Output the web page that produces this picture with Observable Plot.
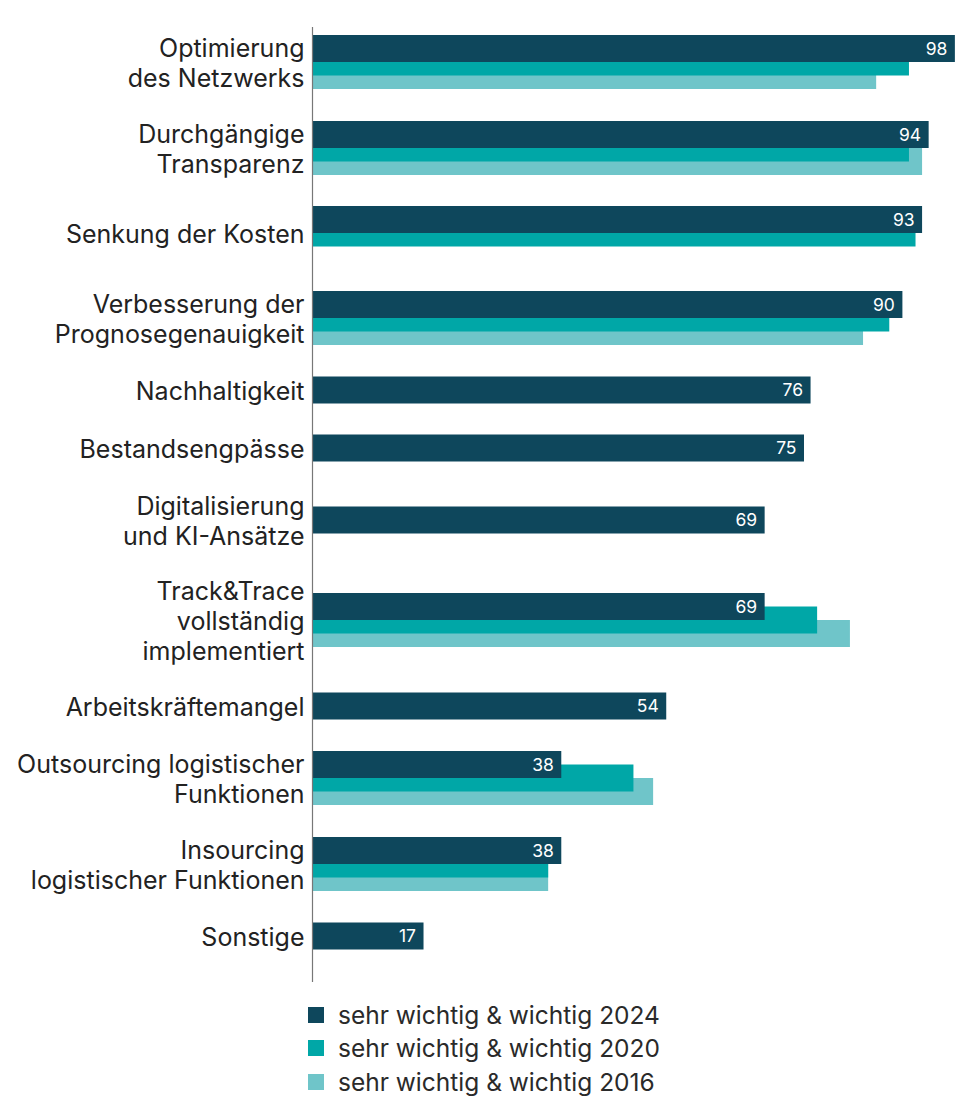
<!DOCTYPE html>
<html>
<head>
<meta charset="utf-8">
<script src="https://cdn.jsdelivr.net/npm/d3@7"></script>
<script src="https://cdn.jsdelivr.net/npm/@observablehq/plot@0.6"></script>
<style>
  body { margin: 0; background: #fff; font-family: Inter, "Noto Sans", sans-serif; }
  #chart svg { display: block; }
  .legend { margin-left: 308px; margin-top: 8px; }
  .legend .row { display: flex; align-items: center; height: 33.5px; font-size: 24.5px; color: #2a2a2a; }
  .legend .sw { width: 16px; height: 16px; margin-right: 14px; }
</style>
</head>
<body>
<div id="chart"></div>
<div class="legend" id="legend"></div>
<script>
// ---- data ----
const categories = [
  "Optimierung\ndes Netzwerks",
  "Durchgängige\nTransparenz",
  "Senkung der Kosten",
  "Verbesserung der\nPrognosegenauigkeit",
  "Nachhaltigkeit",
  "Bestandsengpässe",
  "Digitalisierung\nund KI-Ansätze",
  "Track&Trace\nvollständig\nimplementiert",
  "Arbeitskräftemangel",
  "Outsourcing logistischer\nFunktionen",
  "Insourcing\nlogistischer Funktionen",
  "Sonstige"
];
const seriesNames = [
  "sehr wichtig & wichtig 2024",
  "sehr wichtig & wichtig 2020",
  "sehr wichtig & wichtig 2016"
];
const values2024 = [98, 94, 93, 90, 76, 75, 69, 69, 54, 38, 38, 17];
const values2020 = [91, 91, 92, 88, null, null, null, 77, null, 49, 36, null];
const values2016 = [86, 93, null, 84, null, null, null, 82, null, 52, 36, null];
const seriesColors = ["#0e475c", "#00a7a7", "#6fc5c9"];

// ---- layout (derived from label line count and number of series) ----
const allValues = [values2024, values2020, values2016];
const LINE = 28, BAR = 27, STEP = 13.5, GAP = 30, TOP = 34, H = 990;
const groups = [];
let cursor = TOP;
categories.forEach((label, i) => {
  const n = allValues.filter(a => a[i] != null).length;
  const lines = label.split("\n").length;
  const slot = Math.max(n > 1 ? BAR + 2 * STEP : BAR, lines * LINE);
  const c = cursor + slot / 2;
  groups.push({label, c, multi: n > 1});
  cursor += slot + GAP;
});
const rows = [];
categories.forEach((label, i) => {
  const g = groups[i];
  allValues.forEach((arr, k) => {
    if (arr[i] == null) return;
    const y1 = g.multi ? g.c - (BAR + 2 * STEP) / 2 + k * STEP : g.c - BAR / 2;
    rows.push({cat: label, series: seriesNames[k], k, value: arr[i], y1, y2: y1 + BAR, ym: y1 + BAR / 2});
  });
});
rows.sort((a, b) => b.k - a.k); // draw 2016 first, 2024 last

const chart = Plot.plot({
  width: 969,
  height: H,
  marginLeft: 312,
  marginRight: 1,
  marginTop: 0,
  marginBottom: 0,
  style: {fontFamily: "Inter, 'Noto Sans', sans-serif", background: "#fff"},
  x: {domain: [0, 100], axis: null},
  y: {domain: [0, H], range: [0, H], axis: null},
  color: {domain: seriesNames, range: seriesColors},
  marks: [
    Plot.rectX(rows, {x1: 0, x2: "value", y1: "y1", y2: "y2", fill: "series"}),
    Plot.ruleX([0], {y1: 27, y2: H - 8, stroke: "#777", strokeWidth: 1.2}),
    Plot.text(rows.filter(d => d.k === 0), {
      x: "value", y: "ym", text: d => String(d.value), dx: -8, textAnchor: "end",
      fill: "white", fontSize: 17.5, fontWeight: 400
    }),
    Plot.text(groups, {
      x: 0, y: "c", text: "label", dx: -8, textAnchor: "end", lineAnchor: "middle",
      lineHeight: 1.2, fontSize: 25, fill: "#222"
    })
  ]
});
document.getElementById("chart").appendChild(chart);

const legend = document.getElementById("legend");
seriesNames.forEach((name, k) => {
  const row = document.createElement("div");
  row.className = "row";
  const sw = document.createElement("span");
  sw.className = "sw";
  sw.style.background = seriesColors[k];
  const t = document.createElement("span");
  t.textContent = name;
  row.appendChild(sw); row.appendChild(t);
  legend.appendChild(row);
});
</script>
</body>
</html>
